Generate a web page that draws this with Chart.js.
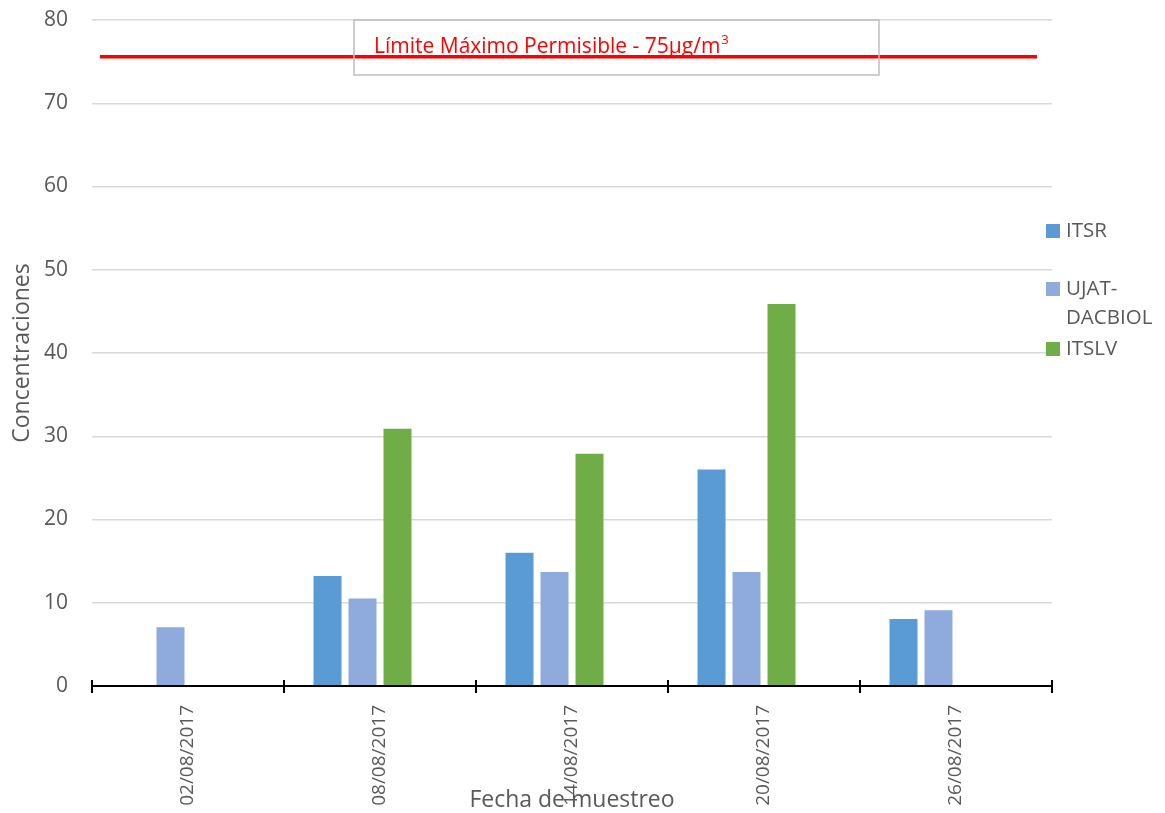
<!DOCTYPE html>
<html>
<head>
<meta charset="utf-8">
<script src="https://cdn.jsdelivr.net/npm/chart.js@4.4.1/dist/chart.umd.min.js"></script>
<style>
html,body{margin:0;padding:0;background:#fff;}
#wrap{position:relative;width:1165px;height:813px;}
</style>
</head>
<body>
<div id="wrap"><canvas id="c" width="1165" height="813"></canvas></div>
<script>
const categories = ['02/08/2017','08/08/2017','14/08/2017','20/08/2017','26/08/2017'];
const seriesNames = ['ITSR','UJAT-DACBIOL','ITSLV'];
const itsr = [null, 13.2, 16.0, 26.0, 8.05];
const ujat = [7.05, 10.5, 13.7, 13.7, 9.1];
const itslv = [null, 30.9, 27.9, 45.9, null];
const emptySeries = [null, null, null, null, null];
const yTicks = [0,10,20,30,40,50,60,70,80];
const limitValue = 75.6;
const limitText = 'Límite Máximo Permisible - 75µg/m';
const limitSup = '3';
const colors = ['#5B9BD5','#8FAADC','#70AD47'];
const FONT = '"Open Sans", sans-serif';
const GREY = '#595959';

const overlay = {
  id: 'overlay',
  afterDraw(chart) {
    const ctx = chart.ctx;
    const xs = chart.scales.x, ys = chart.scales.y;
    const area = chart.chartArea;
    const y0 = ys.getPixelForValue(0);
    ctx.save();
    ctx.strokeStyle = '#000';
    ctx.lineWidth = 2;
    ctx.beginPath();
    ctx.moveTo(area.left, y0); ctx.lineTo(area.right, y0);
    ctx.stroke();
    const n = categories.length;
    const step = (xs.getPixelForValue(1) - xs.getPixelForValue(0));
    for (let i = 0; i <= n; i++) {
      const x = xs.getPixelForValue(0) - step/2 + i*step;
      ctx.beginPath();
      ctx.moveTo(x, y0 - 6); ctx.lineTo(x, y0 + 7);
      ctx.stroke();
    }
    const ly = ys.getPixelForValue(limitValue);
    ctx.strokeStyle = '#FF0000';
    ctx.lineWidth = 3.5;
    ctx.beginPath();
    ctx.moveTo(area.left + 8, ly); ctx.lineTo(area.right - 15, ly);
    ctx.stroke();
    const top = ys.getPixelForValue(80);
    ctx.strokeStyle = '#BFBFBF';
    ctx.lineWidth = 1.5;
    ctx.strokeRect(354, top, 525, 55);
    ctx.fillStyle = '#FF0000';
    ctx.font = '21px ' + FONT;
    ctx.textBaseline = 'alphabetic';
    ctx.textAlign = 'left';
    ctx.fillText(limitText, 374, top + 33);
    const w = ctx.measureText(limitText).width;
    ctx.font = '13px ' + FONT;
    ctx.fillText(limitSup, 374 + w + 1, top + 24);
    const items = [
      {lines:['ITSR'], y:231},
      {lines:['UJAT-','DACBIOL'], y:289},
      {lines:['ITSLV'], y:349}
    ];
    ctx.font = '20.5px ' + FONT;
    ctx.textBaseline = 'middle';
    items.forEach((it, k) => {
      ctx.fillStyle = colors[k];
      ctx.fillRect(1046, it.y - 7, 14, 14);
      ctx.fillStyle = GREY;
      it.lines.forEach((t, j) => ctx.fillText(t, 1066, it.y + j*29));
    });
    ctx.fillStyle = GREY;
    ctx.font = '23px ' + FONT;
    ctx.textAlign = 'center';
    ctx.textBaseline = 'alphabetic';
    ctx.fillText('Fecha de muestreo', (area.left + area.right)/2, 807);
    ctx.translate(29, (area.top + area.bottom)/2);
    ctx.rotate(-Math.PI/2);
    ctx.fillText('Concentraciones', 0, 0);
    ctx.restore();
  }
};

function zeroPad(s) { s.paddingTop = 0; s.paddingBottom = 0; s.paddingLeft = 0; s.paddingRight = 0; }

const data = [itsr, ujat, itslv, emptySeries];
const datasetNames = seriesNames.concat(['']);
new Chart(document.getElementById('c'), {
  type: 'bar',
  data: {
    labels: categories,
    datasets: datasetNames.map((name, i) => ({
      label: name,
      data: data[i],
      backgroundColor: colors[i] || 'rgba(0,0,0,0)',
      borderWidth: 0,
      categoryPercentage: 0.729,
      barPercentage: 0.8
    }))
  },
  options: {
    responsive: false,
    animation: false,
    devicePixelRatio: 1,
    layout: { padding: { top: 20, right: 113, left: 0, bottom: 0 } },
    plugins: { legend: { display: false }, tooltip: { enabled: false } },
    scales: {
      x: {
        grid: { display: false, drawTicks: false },
        border: { display: false },
        ticks: {
          color: GREY, font: { family: FONT, size: 19 },
          minRotation: 90, maxRotation: 90, padding: 19, autoSkip: false
        },
        afterFit(s) { s.height = 127; zeroPad(s); }
      },
      y: {
        min: 0, max: 80,
        afterBuildTicks(s) { s.ticks = yTicks.map(v => ({ value: v })); },
        grid: { color: '#D9D9D9', lineWidth: 1.5, drawTicks: false },
        border: { display: false },
        ticks: { color: GREY, font: { family: FONT, size: 21 }, padding: 24 },
        afterFit(s) { s.width = 92; zeroPad(s); }
      }
    }
  },
  plugins: [overlay]
});
</script>
</body>
</html>
